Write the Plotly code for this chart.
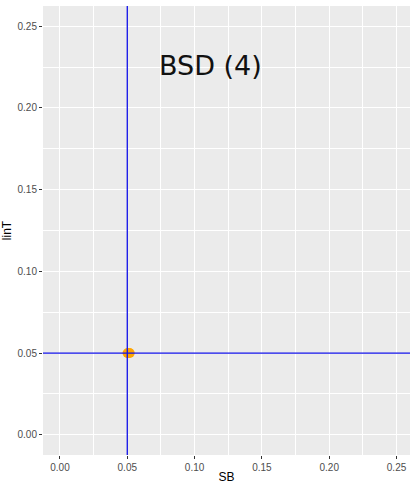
import plotly.graph_objects as go

# data
sb_points = [0.0500, 0.0512, 0.0508, 0.0520]
lint_points = [0.0500, 0.0502, 0.0498, 0.0500]
vline_sb = [0.05]
hline_lint = [0.05]
label_text = "BSD (4)"
label_pos = [0.1115, 0.226]
tick_vals = [0.00, 0.05, 0.10, 0.15, 0.20, 0.25]
tick_text = ["0.00", "0.05", "0.10", "0.15", "0.20", "0.25"]

fig = go.Figure()
fig.add_trace(go.Scatter(
    x=sb_points, y=lint_points, mode="markers",
    marker=dict(color="#FFA500", size=9.5, line=dict(width=0)),
    showlegend=False, hoverinfo="skip"))

for v in vline_sb:
    fig.add_vline(x=v, line=dict(color="#1010E8", width=1.3))
for h in hline_lint:
    fig.add_hline(y=h, line=dict(color="#1010E8", width=1.3))

fig.add_annotation(x=label_pos[0], y=label_pos[1], text=label_text,
                   showarrow=False, xref="x", yref="y",
                   font=dict(family="DejaVu Sans", size=27, color="#111111"))

axis_common = dict(
    showgrid=True, gridcolor="white", gridwidth=1.1,
    minor=dict(showgrid=True, gridcolor="white", gridwidth=0.5, dtick=0.025, tick0=0),
    zeroline=False, showline=False,
    ticks="outside", ticklen=3, tickwidth=1, tickcolor="#333333",
    tickfont=dict(family="Liberation Sans, Arial", size=10, color="#4D4D4D"),
    tickvals=tick_vals, ticktext=tick_text,
)

fig.update_xaxes(range=[-0.0126, 0.26], title=dict(text="SB", standoff=2,
                 font=dict(family="Liberation Sans, Arial", size=12, color="black")),
                 **axis_common)
fig.update_yaxes(range=[-0.0124, 0.2624], title=dict(text="linT", standoff=7,
                 font=dict(family="Liberation Sans, Arial", size=12, color="black")),
                 **axis_common)

fig.update_layout(
    width=410, height=484,
    margin=dict(l=43, r=0, t=6, b=29),
    paper_bgcolor="white", plot_bgcolor="#EBEBEB",
    showlegend=False,
)

fig.write_html("out.html", config={"displayModeBar": False},
               post_script="document.body.style.margin='0';document.body.style.overflow='hidden';")
